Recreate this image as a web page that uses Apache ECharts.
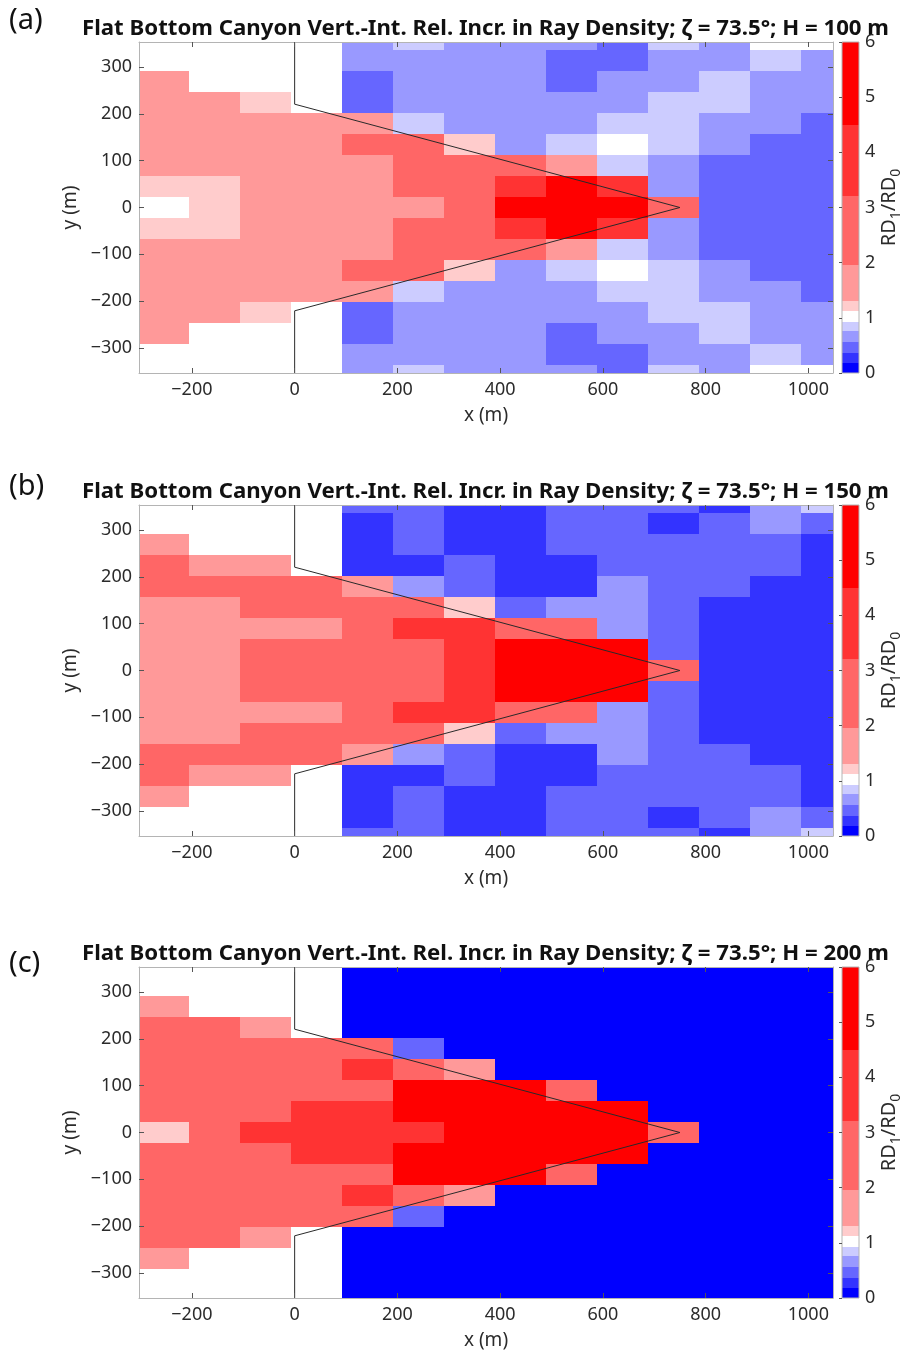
<!DOCTYPE html>
<html>
<head>
<meta charset="utf-8">
<script src="https://cdn.jsdelivr.net/npm/echarts@6/dist/echarts.min.js"></script>
<style>
  html, body { margin: 0; padding: 0; background: #ffffff; }
  #chart { width: 909px; height: 1352px; }
</style>
</head>
<body>
<div id="chart"></div>
<script>
// Cell edges of the ray-density grid (m). Columns run left to right, rows top to bottom.
const xEdges = [-303, -206, -107, -8, 92, 191, 290, 390, 489, 588, 688, 787, 886, 986, 1048];
const yEdges = [354, 336.4, 291.5, 246.7, 201.8, 157, 112.1, 67.3, 22.4, -22.4, -67.3, -112.1, -157, -201.8, -246.7, -291.5, -336.4, -354];

// Axis tick labels
const xTicks = [-200, 0, 200, 400, 600, 800, 1000];
const yTicks = [-300, -200, -100, 0, 100, 200, 300];

// Canyon rim outline (x, y in m)
const canyonX = [0, 0, 750, 0, 0];
const canyonY = [354, 221, 0, -221, -354];

// Colour classes of RD1/RD0
const levelEdges = [0, 0.18, 0.37, 0.56, 0.76, 0.93, 1.12, 1.31, 1.95, 3.2, 4.5, 6];
const levelColors = ['#0000ff', '#3333ff', '#6666ff', '#9999ff', '#ccccff', '#ffffff',
                     '#ffcccc', '#ff9999', '#ff6666', '#ff3333', '#ff0000'];

// Source heights H (m)
const heights = [100, 150, 200];
const panelLetters = ['(a)', '(b)', '(c)'];

// RD1/RD0 per cell, H = 100 m (rows from y = +354 down to y = -354)
const ratioH100 = [
  [1.0, 1.0, 1.0, 1.0, 0.66, 0.85, 0.66, 0.66, 0.66, 0.47, 0.85, 0.66, 1.0, 1.0],
  [1.0, 1.0, 1.0, 1.0, 0.66, 0.66, 0.66, 0.66, 0.47, 0.47, 0.66, 0.66, 0.85, 0.66],
  [1.6, 1.0, 1.0, 1.0, 0.47, 0.66, 0.66, 0.66, 0.47, 0.66, 0.66, 0.85, 0.66, 0.66],
  [1.6, 1.6, 1.2, 1.0, 0.47, 0.66, 0.66, 0.66, 0.66, 0.66, 0.85, 0.85, 0.66, 0.66],
  [1.6, 1.6, 1.6, 1.6, 1.6, 0.85, 0.66, 0.66, 0.66, 0.85, 0.85, 0.66, 0.66, 0.47],
  [1.6, 1.6, 1.6, 1.6, 2.5, 2.5, 1.2, 0.66, 0.85, 1.0, 0.85, 0.66, 0.47, 0.47],
  [1.6, 1.6, 1.6, 1.6, 1.6, 2.5, 2.5, 2.5, 1.6, 0.85, 0.66, 0.47, 0.47, 0.47],
  [1.2, 1.2, 1.6, 1.6, 1.6, 2.5, 2.5, 3.8, 5.2, 3.8, 0.66, 0.47, 0.47, 0.47],
  [1.0, 1.2, 1.6, 1.6, 1.6, 1.6, 2.5, 5.2, 5.2, 5.2, 2.5, 0.47, 0.47, 0.47],
  [1.2, 1.2, 1.6, 1.6, 1.6, 2.5, 2.5, 3.8, 5.2, 3.8, 0.66, 0.47, 0.47, 0.47],
  [1.6, 1.6, 1.6, 1.6, 1.6, 2.5, 2.5, 2.5, 1.6, 0.85, 0.66, 0.47, 0.47, 0.47],
  [1.6, 1.6, 1.6, 1.6, 2.5, 2.5, 1.2, 0.66, 0.85, 1.0, 0.85, 0.66, 0.47, 0.47],
  [1.6, 1.6, 1.6, 1.6, 1.6, 0.85, 0.66, 0.66, 0.66, 0.85, 0.85, 0.66, 0.66, 0.47],
  [1.6, 1.6, 1.2, 1.0, 0.47, 0.66, 0.66, 0.66, 0.66, 0.66, 0.85, 0.85, 0.66, 0.66],
  [1.6, 1.0, 1.0, 1.0, 0.47, 0.66, 0.66, 0.66, 0.47, 0.66, 0.66, 0.85, 0.66, 0.66],
  [1.0, 1.0, 1.0, 1.0, 0.66, 0.66, 0.66, 0.66, 0.47, 0.47, 0.66, 0.66, 0.85, 0.66],
  [1.0, 1.0, 1.0, 1.0, 0.66, 0.85, 0.66, 0.66, 0.66, 0.47, 0.85, 0.66, 1.0, 1.0]
];

// RD1/RD0 per cell, H = 150 m
const ratioH150 = [
  [1.0, 1.0, 1.0, 1.0, 0.47, 0.47, 0.28, 0.28, 0.47, 0.47, 0.47, 0.28, 0.66, 0.85],
  [1.0, 1.0, 1.0, 1.0, 0.28, 0.47, 0.28, 0.28, 0.47, 0.47, 0.28, 0.47, 0.66, 0.47],
  [1.6, 1.0, 1.0, 1.0, 0.28, 0.47, 0.28, 0.28, 0.47, 0.47, 0.47, 0.47, 0.47, 0.28],
  [2.5, 1.6, 1.6, 1.0, 0.28, 0.28, 0.47, 0.28, 0.28, 0.47, 0.47, 0.47, 0.47, 0.28],
  [2.5, 2.5, 2.5, 2.5, 1.6, 0.66, 0.47, 0.28, 0.28, 0.66, 0.47, 0.47, 0.28, 0.28],
  [1.6, 1.6, 2.5, 2.5, 2.5, 2.5, 1.2, 0.47, 0.66, 0.66, 0.47, 0.28, 0.28, 0.28],
  [1.6, 1.6, 1.6, 1.6, 2.5, 3.8, 3.8, 2.5, 2.5, 0.66, 0.47, 0.28, 0.28, 0.28],
  [1.6, 1.6, 2.5, 2.5, 2.5, 2.5, 3.8, 5.2, 5.2, 5.2, 0.47, 0.28, 0.28, 0.28],
  [1.6, 1.6, 2.5, 2.5, 2.5, 2.5, 3.8, 5.2, 5.2, 5.2, 2.5, 0.28, 0.28, 0.28],
  [1.6, 1.6, 2.5, 2.5, 2.5, 2.5, 3.8, 5.2, 5.2, 5.2, 0.47, 0.28, 0.28, 0.28],
  [1.6, 1.6, 1.6, 1.6, 2.5, 3.8, 3.8, 2.5, 2.5, 0.66, 0.47, 0.28, 0.28, 0.28],
  [1.6, 1.6, 2.5, 2.5, 2.5, 2.5, 1.2, 0.47, 0.66, 0.66, 0.47, 0.28, 0.28, 0.28],
  [2.5, 2.5, 2.5, 2.5, 1.6, 0.66, 0.47, 0.28, 0.28, 0.66, 0.47, 0.47, 0.28, 0.28],
  [2.5, 1.6, 1.6, 1.0, 0.28, 0.28, 0.47, 0.28, 0.28, 0.47, 0.47, 0.47, 0.47, 0.28],
  [1.6, 1.0, 1.0, 1.0, 0.28, 0.47, 0.28, 0.28, 0.47, 0.47, 0.47, 0.47, 0.47, 0.28],
  [1.0, 1.0, 1.0, 1.0, 0.28, 0.47, 0.28, 0.28, 0.47, 0.47, 0.28, 0.47, 0.66, 0.47],
  [1.0, 1.0, 1.0, 1.0, 0.47, 0.47, 0.28, 0.28, 0.47, 0.47, 0.47, 0.28, 0.66, 0.85]
];

// RD1/RD0 per cell, H = 200 m
const ratioH200 = [
  [1.0, 1.0, 1.0, 1.0, 0.1, 0.1, 0.1, 0.1, 0.1, 0.1, 0.1, 0.1, 0.1, 0.1],
  [1.0, 1.0, 1.0, 1.0, 0.1, 0.1, 0.1, 0.1, 0.1, 0.1, 0.1, 0.1, 0.1, 0.1],
  [1.6, 1.0, 1.0, 1.0, 0.1, 0.1, 0.1, 0.1, 0.1, 0.1, 0.1, 0.1, 0.1, 0.1],
  [2.5, 2.5, 1.6, 1.0, 0.1, 0.1, 0.1, 0.1, 0.1, 0.1, 0.1, 0.1, 0.1, 0.1],
  [2.5, 2.5, 2.5, 2.5, 2.5, 0.47, 0.1, 0.1, 0.1, 0.1, 0.1, 0.1, 0.1, 0.1],
  [2.5, 2.5, 2.5, 2.5, 3.8, 2.5, 1.6, 0.1, 0.1, 0.1, 0.1, 0.1, 0.1, 0.1],
  [2.5, 2.5, 2.5, 2.5, 2.5, 5.2, 5.2, 5.2, 2.5, 0.1, 0.1, 0.1, 0.1, 0.1],
  [2.5, 2.5, 2.5, 3.8, 3.8, 5.2, 5.2, 5.2, 5.2, 5.2, 0.1, 0.1, 0.1, 0.1],
  [1.2, 2.5, 3.8, 3.8, 3.8, 3.8, 5.2, 5.2, 5.2, 5.2, 2.5, 0.1, 0.1, 0.1],
  [2.5, 2.5, 2.5, 3.8, 3.8, 5.2, 5.2, 5.2, 5.2, 5.2, 0.1, 0.1, 0.1, 0.1],
  [2.5, 2.5, 2.5, 2.5, 2.5, 5.2, 5.2, 5.2, 2.5, 0.1, 0.1, 0.1, 0.1, 0.1],
  [2.5, 2.5, 2.5, 2.5, 3.8, 2.5, 1.6, 0.1, 0.1, 0.1, 0.1, 0.1, 0.1, 0.1],
  [2.5, 2.5, 2.5, 2.5, 2.5, 0.47, 0.1, 0.1, 0.1, 0.1, 0.1, 0.1, 0.1, 0.1],
  [2.5, 2.5, 1.6, 1.0, 0.1, 0.1, 0.1, 0.1, 0.1, 0.1, 0.1, 0.1, 0.1, 0.1],
  [1.6, 1.0, 1.0, 1.0, 0.1, 0.1, 0.1, 0.1, 0.1, 0.1, 0.1, 0.1, 0.1, 0.1],
  [1.0, 1.0, 1.0, 1.0, 0.1, 0.1, 0.1, 0.1, 0.1, 0.1, 0.1, 0.1, 0.1, 0.1],
  [1.0, 1.0, 1.0, 1.0, 0.1, 0.1, 0.1, 0.1, 0.1, 0.1, 0.1, 0.1, 0.1, 0.1]
];

const panels = [ratioH100, ratioH150, ratioH200];

// ---- layout (pixels) ----
const FONT = '"Noto Sans", "DejaVu Sans", sans-serif';
const TXT = '#2b2b2b';
const FRAME = '#b4b4b4';
const plotLeft = 139, plotWidth = 694, plotHeight = 331;
const plotTops = [42, 505, 967];
const cbLeft = 842, cbWidth = 17;
const titleLeft = 82, titleWidth = 807;
const letterY = [21, 487, 964];

const minus = v => String(v).replace('-', '\u2212');

// cells as [x0, x1, yBottom, yTop, value]
function cellData(grid) {
  const out = [];
  grid.forEach((row, r) => {
    row.forEach((v, c) => {
      out.push([xEdges[c], xEdges[c + 1], yEdges[r + 1], yEdges[r], v]);
    });
  });
  return out;
}
const colorbarData = levelColors.map((_, i) =>
  [0, 1, levelEdges[i], levelEdges[i + 1], (levelEdges[i] + levelEdges[i + 1]) / 2]);

function rectItem(params, api) {
  const a = api.coord([api.value(0), api.value(3)]);
  const b = api.coord([api.value(1), api.value(2)]);
  const x = Math.round(a[0]), y = Math.round(a[1]);
  return {
    type: 'rect',
    shape: { x: x, y: y, width: Math.round(b[0]) - x, height: Math.round(b[1]) - y },
    style: { fill: api.visual('color') }
  };
}

const grids = [], xAxes = [], yAxes = [], series = [], graphics = [], mappedSeries = [];
const xMin = xEdges[0], xMax = xEdges[xEdges.length - 1];
const yMin = yEdges[yEdges.length - 1], yMax = yEdges[0];

const tickStyle = { show: true, inside: true, length: 5, lineStyle: { color: '#555', width: 1 } };
const lineStyle = { show: true, onZero: false, lineStyle: { color: FRAME, width: 1 } };
const labelStyle = { color: TXT, fontSize: 18, fontFamily: FONT };
const AXIS_Z = 10;

// measure text width for condensed titles
const measureCtx = document.createElement('canvas').getContext('2d');

panels.forEach((grid, p) => {
  const top = plotTops[p];
  grids.push({ left: plotLeft, top: top, width: plotWidth, height: plotHeight });

  xAxes.push({
    type: 'value', gridIndex: p, position: 'bottom', min: xMin, max: xMax, z: AXIS_Z,
    axisLine: lineStyle, splitLine: { show: false },
    axisTick: Object.assign({ customValues: xTicks }, tickStyle),
    axisLabel: Object.assign({ customValues: xTicks, margin: 8, formatter: minus }, labelStyle),
    name: 'x (m)', nameLocation: 'middle', nameGap: 33,
    nameTextStyle: { color: TXT, fontSize: 19, fontFamily: FONT }
  });
  xAxes.push({
    type: 'value', gridIndex: p, position: 'top', min: xMin, max: xMax, z: AXIS_Z,
    axisLine: lineStyle, splitLine: { show: false },
    axisTick: Object.assign({ customValues: xTicks }, tickStyle),
    axisLabel: { show: false }
  });
  yAxes.push({
    type: 'value', gridIndex: p, position: 'left', min: yMin, max: yMax, z: AXIS_Z,
    axisLine: lineStyle, splitLine: { show: false },
    axisTick: Object.assign({ customValues: yTicks }, tickStyle),
    axisLabel: Object.assign({ customValues: yTicks, margin: 7, formatter: minus }, labelStyle),
    name: 'y (m)', nameLocation: 'middle', nameGap: 57,
    nameTextStyle: { color: TXT, fontSize: 19, fontFamily: FONT }
  });
  yAxes.push({
    type: 'value', gridIndex: p, position: 'right', min: yMin, max: yMax, z: AXIS_Z,
    axisLine: lineStyle, splitLine: { show: false },
    axisTick: Object.assign({ customValues: yTicks }, tickStyle),
    axisLabel: { show: false }
  });

  mappedSeries.push(series.length);
  series.push({
    type: 'custom', xAxisIndex: 2 * p, yAxisIndex: 2 * p, clip: true,
    renderItem: rectItem, encode: { x: [0, 1], y: [2, 3] },
    data: cellData(grid), silent: true, z: 2
  });
  series.push({
    type: 'line', xAxisIndex: 2 * p, yAxisIndex: 2 * p,
    data: canyonX.map((x, i) => [x, canyonY[i]]),
    showSymbol: false, symbol: 'none', silent: true, z: 3,
    lineStyle: { color: '#2a2a2a', width: 1 }
  });

  // panel letter and title
  graphics.push({
    type: 'text', x: 9, y: letterY[p],
    style: { text: panelLetters[p], fontSize: 29, fontFamily: FONT, fill: '#111',
             align: 'left', verticalAlign: 'middle' }
  });
  const title = 'Flat Bottom Canyon Vert.-Int. Rel. Incr. in Ray Density; \u03B6 = 73.5\u00B0; H = '
    + heights[p] + ' m';
  const titleFont = 'bold 21px ' + FONT;
  measureCtx.font = titleFont;
  const natural = measureCtx.measureText(title).width;
  graphics.push({
    type: 'text', x: titleLeft, y: top - 13, scaleX: titleWidth / natural,
    style: { text: title, fontSize: 21, fontWeight: 'bold', fontFamily: FONT, fill: '#111',
             align: 'left', verticalAlign: 'middle' }
  });
  // colour bar quantity label
  graphics.push({
    type: 'text', x: 889, y: top + plotHeight / 2, rotation: Math.PI / 2,
    style: {
      text: '{n|RD}{s|1}{n|/RD}{s|0}',
      align: 'center', verticalAlign: 'middle',
      rich: {
        n: { fontSize: 20, fontFamily: FONT, fill: TXT, lineHeight: 28, verticalAlign: 'middle' },
        s: { fontSize: 14, fontFamily: FONT, fill: TXT, lineHeight: 28, verticalAlign: 'bottom' }
      }
    }
  });
});

// colour bars
panels.forEach((_, p) => {
  const gi = grids.length;
  grids.push({ left: cbLeft, top: plotTops[p], width: cbWidth, height: plotHeight,
               show: true, borderColor: FRAME, borderWidth: 1, backgroundColor: 'transparent', z: 5 });
  xAxes.push({ type: 'value', gridIndex: gi, min: 0, max: 1, show: false });
  yAxes.push({
    type: 'value', gridIndex: gi, position: 'right', min: 0, max: 6, interval: 1, z: AXIS_Z,
    axisLine: { show: false }, splitLine: { show: false },
    axisTick: { show: true, inside: true, length: 3, lineStyle: { color: '#555' } },
    axisLabel: { color: TXT, fontSize: 18, fontFamily: FONT, margin: 6 }
  });
  mappedSeries.push(series.length);
  series.push({
    type: 'custom', xAxisIndex: xAxes.length - 1, yAxisIndex: yAxes.length - 1, clip: true,
    renderItem: rectItem, encode: { x: [0, 1], y: [2, 3] },
    data: colorbarData, silent: true, z: 2
  });
});

const chart = echarts.init(document.getElementById('chart'), null, { renderer: 'canvas' });
chart.setOption({
  animation: false,
  backgroundColor: '#ffffff',
  grid: grids,
  xAxis: xAxes,
  yAxis: yAxes,
  visualMap: {
    type: 'piecewise', show: false, dimension: 4, seriesIndex: mappedSeries,
    pieces: levelColors.map((c, i) => i === levelColors.length - 1
      ? { gte: levelEdges[i], lte: levelEdges[i + 1], color: c }
      : { gte: levelEdges[i], lt: levelEdges[i + 1], color: c })
  },
  graphic: graphics,
  series: series
});
</script>
</body>
</html>
